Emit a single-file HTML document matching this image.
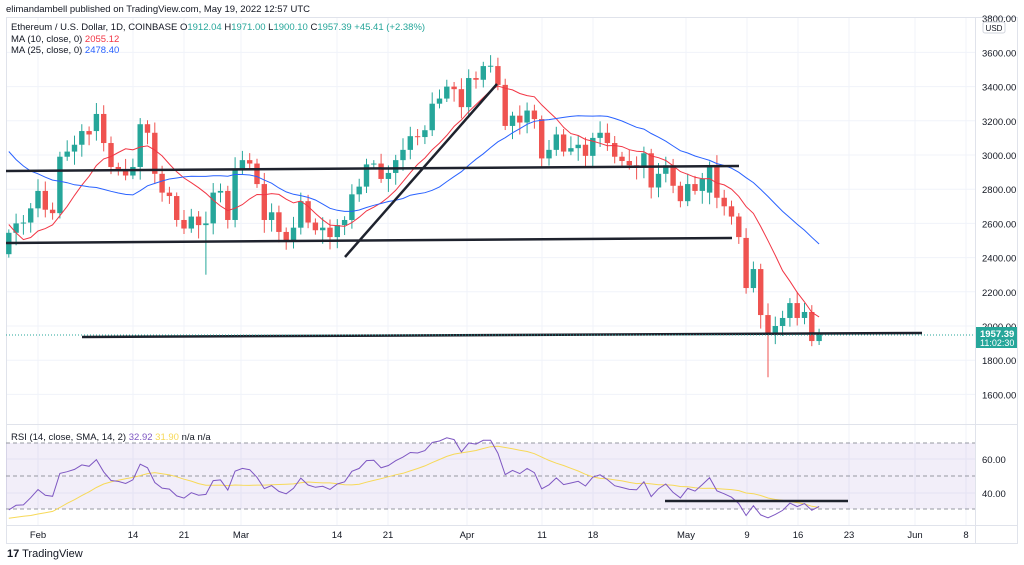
<!DOCTYPE html>
<html><head><meta charset="utf-8"><style>
body{margin:0;background:#fff;width:1024px;height:565px;overflow:hidden;font-family:"Liberation Sans",sans-serif}
svg{position:absolute;left:0;top:0}
</style></head><body>
<svg id="s" width="1024" height="565" xmlns="http://www.w3.org/2000/svg" font-family="Liberation Sans, sans-serif"></svg>
<script>
const pre=[3760,3790,3540,3410,3200,3190,3080,3150,3240,3370,3250,3310,3330,3350,3210,3160,3090,3000,2560,2410,2540,2440,2460,2470,2420];
const oc=[[2420,2545],[2545,2600],[2600,2605],[2605,2688],[2688,2790],[2790,2680],[2680,2660],[2660,2990],[2990,3020],[3020,3060],[3060,3140],[3140,3120],[3140,3240],[3240,3070],[3070,2930],[2930,2915],[2915,2880],[2880,2930],[2930,3180],[3180,3130],[3130,2890],[2890,2780],[2780,2760],[2760,2620],[2620,2570],[2570,2640],[2640,2590],[2590,2600],[2600,2780],[2780,2790],[2790,2620],[2620,2920],[2920,2970],[2970,2950],[2950,2830],[2830,2620],[2620,2665],[2665,2550],[2550,2500],[2500,2575],[2575,2730],[2730,2605],[2605,2560],[2560,2575],[2575,2520],[2520,2590],[2590,2620],[2620,2770],[2770,2815],[2815,2945],[2945,2950],[2950,2860],[2860,2895],[2895,2970],[2970,3030],[3030,3110],[3110,3105],[3105,3145],[3145,3300],[3300,3330],[3330,3400],[3400,3385],[3385,3280],[3280,3450],[3450,3440],[3440,3520],[3520,3522],[3520,3410],[3410,3170],[3170,3230],[3230,3190],[3190,3260],[3260,3210],[3210,2980],[2980,3030],[3030,3120],[3120,3020],[3020,3040],[3040,3060],[3060,2995],[2995,3100],[3100,3130],[3130,3070],[3070,2990],[2990,2965],[2965,2940],[2940,2935],[2935,3010],[3010,2810],[2810,2890],[2890,2940],[2940,2820],[2820,2730],[2730,2830],[2830,2790],[2790,2860],[2780,2940],[2940,2750],[2750,2700],[2700,2640],[2640,2520],[2515,2222],[2222,2333],[2333,2064],[2064,1959],[1959,2000],[2000,2047],[2047,2134],[2134,2047],[2047,2082],[2082,1912],[1912,1957]];
const lowX={27:2300,104:1700};
const Y=p=>326+(2000-p)*0.171;
const X=i=>38+(i-4)*7.3;
let h='';
const line=(x1,y1,x2,y2,c,w,extra='')=>h+=`<line x1="${x1}" y1="${y1}" x2="${x2}" y2="${y2}" stroke="${c}" stroke-width="${w}" ${extra}/>`;
const txt=(x,y,t,c,s,a='start',extra='')=>h+=`<text x="${x}" y="${y}" fill="${c}" font-size="${s}" text-anchor="${a}" ${extra}>${t}</text>`;
const g='#f0f3fa';
[1600,1800,2000,2200,2400,2600,2800,3000,3200,3400,3600].forEach(p=>line(6,Y(p),975,Y(p),g,1));
const tl=[[38,'Feb'],[133,'14'],[184,'21'],[241,'Mar'],[337,'14'],[388,'21'],[467,'Apr'],[542,'11'],[593,'18'],[686,'May'],[747,'9'],[798,'16'],[849,'23'],[915,'Jun'],[966,'8']];
tl.forEach(t=>line(t[0],17,t[0],525,g,1));
[459,493].forEach(y=>line(6,y,975,y,g,1));
h+=`<rect x="6.5" y="17.5" width="1011" height="526" fill="none" stroke="#e0e3eb"/>`;
line(6,424.5,1018,424.5,'#e0e3eb',1);line(6,525.5,1018,525.5,'#e0e3eb',1);line(975.5,17,975.5,543,'#e0e3eb',1);
h+=`<rect x="6" y="443" width="969" height="66" fill="#7e57c2" fill-opacity="0.1"/>`;
[443,476,509].forEach(y=>line(6,y,975,y,'#9598a1',1,'stroke-dasharray="4 3"'));
const closes=pre.concat(oc.map(c=>c[1]));
oc.forEach((c,i)=>{const x=X(i),[o,cl]=c,up=cl>=o,col=up?'#26a69a':'#ef5350';
 const hi=Math.max(o,cl)+20+((i*37)%50),lo=lowX[i]||Math.min(o,cl)-20-((i*53)%60);
 line(x,Y(hi),x,Y(lo),col,1);
 const t=Y(Math.max(o,cl)),b=Y(Math.min(o,cl));
 h+=`<rect x="${x-2.7}" y="${t}" width="5.4" height="${Math.max(1,b-t)}" fill="${col}"/>`;});
function ma(n,col){let pts=[];oc.forEach((c,i)=>{const k=i+pre.length;let s=0;for(let j=k-n+1;j<=k;j++)s+=closes[j];pts.push(X(i).toFixed(1)+','+Y(s/n).toFixed(1));});
 h+=`<polyline points="${pts.join(' ')}" fill="none" stroke="${col}" stroke-width="1"/>`;}
ma(10,'#f23645');ma(25,'#2962ff');
const bl='#1e222d';
line(6,171,739,166,bl,2.5);line(6,243,732,238,bl,2.5);line(82,337,922,333,bl,2.5);line(345,257,497,84,bl,2.5);
line(6,335,975,335,'#26a69a',1,'stroke-dasharray="1 2"');
let ag=0,al=0,rsi=[];
for(let k=1;k<closes.length;k++){const d=closes[k]-closes[k-1];const gg=Math.max(d,0),ll=Math.max(-d,0);
 if(k<=14){ag+=gg/14;al+=ll/14;}else{ag=(ag*13+gg)/14;al=(al*13+ll)/14;}
 if(k>=14)rsi[k]=100-100/(1+ag/(al||1e-9));}
const RY=r=>476-(r-50)*1.65;
let rp=[],sp=[];
oc.forEach((c,i)=>{const k=i+pre.length;rp.push(X(i).toFixed(1)+','+RY(rsi[k]).toFixed(1));
 let s=0,n=0;for(let j=k-13;j<=k;j++)if(rsi[j]!==undefined){s+=rsi[j];n++;}sp.push(X(i).toFixed(1)+','+RY(s/n).toFixed(1));});
h+=`<polyline points="${sp.join(' ')}" fill="none" stroke="#f7d958" stroke-width="1"/>`;
h+=`<polyline points="${rp.join(' ')}" fill="none" stroke="#7e57c2" stroke-width="1"/>`;
line(665,501,848,501,bl,2.5);
[1600,1800,2000,2200,2400,2600,2800,3000,3200,3400,3600,3800].forEach(p=>txt(982,Y(p)+4,p+'.00','#131722',9.5));
h+=`<rect x="983" y="22" width="22" height="11" rx="2" fill="#fff" stroke="#d1d4dc"/>`;txt(994,31,'USD','#131722',8,'middle');
h+=`<rect x="976" y="327" width="41" height="21" fill="#26a69a"/>`;txt(980,337,'1957.39','#fff',9.5,'start','font-weight="bold"');txt(980,346,'11:02:30','#fff',9);
txt(982,463,'60.00','#131722',9.5);txt(982,497,'40.00','#131722',9.5);
tl.forEach(t=>txt(t[0],538,t[1],'#131722',9.5,'middle'));
txt(6,12,'elimandambell published on TradingView.com, May 19, 2022 12:57 UTC','#131722',9.5);
h+=`<text x="11" y="30" font-size="9.5" fill="#131722">Ethereum / U.S. Dollar, 1D, COINBASE  O<tspan fill="#26a69a">1912.04</tspan> H<tspan fill="#26a69a">1971.00</tspan> L<tspan fill="#26a69a">1900.10</tspan> C<tspan fill="#26a69a">1957.39</tspan> <tspan fill="#26a69a">+45.41 (+2.38%)</tspan></text>`;
h+=`<text x="11" y="42" font-size="9.5" fill="#131722">MA (10, close, 0) <tspan fill="#f23645">2055.12</tspan></text>`;
h+=`<text x="11" y="53" font-size="9.5" fill="#131722">MA (25, close, 0) <tspan fill="#2962ff">2478.40</tspan></text>`;
h+=`<text x="11" y="440" font-size="9.5" fill="#131722">RSI (14, close, SMA, 14, 2) <tspan fill="#7e57c2">32.92</tspan> <tspan fill="#f7d958">31.90</tspan> n/a  n/a</text>`;
h+=`<text x="7" y="557" font-size="11" fill="#131722"><tspan font-weight="bold">17</tspan> TradingView</text>`;
document.getElementById('s').innerHTML=h;
</script>
</body></html>
